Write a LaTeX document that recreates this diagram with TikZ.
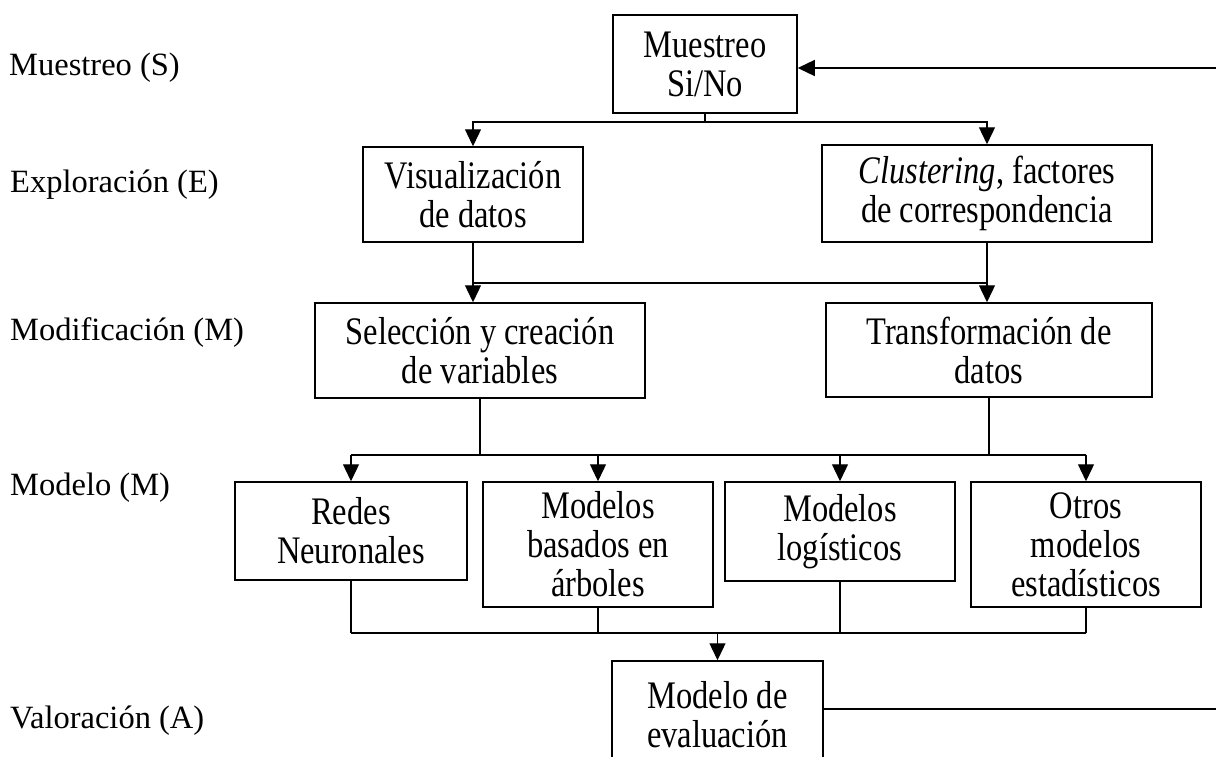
\documentclass[tikz,border=0pt]{standalone}
\usepackage{fontspec}
\setmainfont{Liberation Serif}
\usetikzlibrary{arrows.meta}
\newcommand{\vs}[1]{\scalebox{1}[1.2]{#1}}
\begin{document}
\begin{tikzpicture}[x=1pt,y=-1pt,
  txt/.style={font=\fontsize{32.5}{39}\selectfont},
  box/.style={draw, line width=1.5pt, align=center, inner sep=0pt, txt},
  lbl/.style={anchor=west, inner sep=0pt, txt},
  conn/.style={line width=1.3pt},
  arr/.style={conn, -{Triangle[length=17pt,width=16pt]}}]
\useasboundingbox (0,0) rectangle (1216,756);

% left labels
\node[lbl] (l1) at (9,68) {Muestreo (S)};
\node[lbl] (l2) at (10,185) {Exploración (E)};
\node[lbl] (l3) at (10,333) {Modificación (M)};
\node[lbl] (l4) at (10,488) {Modelo (M)};
\node[lbl] (l5) at (10,721) {Valoración (A)};

% boxes
\node[box, minimum width=184pt, minimum height=98pt] (s) at (705,64) {\vs{Muestreo}\\\vs{Si/No}};
\node[box, minimum width=220pt, minimum height=95pt] (vis) at (473,194.5) {\vs{Visualización}\\\vs{de datos}};
\node[box, minimum width=330pt, minimum height=97pt] (clu) at (987,193.5) {\vs{\textit{Clustering}, factores}\\\vs{de correspondencia}};
\node[box, minimum width=330pt, minimum height=95pt] (sel) at (480,350.5) {\vs{Selección y creación}\\\vs{de variables}};
\node[box, minimum width=326pt, minimum height=94pt] (tra) at (989,350) {\vs{Transformación de}\\\vs{datos}};
\node[box, minimum width=232pt, minimum height=98pt] (red) at (351,531) {\vs{Redes}\\\vs{Neuronales}};
\node[box, minimum width=230pt, minimum height=125pt] (arb) at (598,544.5) {\vs{Modelos}\\\vs{basados en}\\\vs{árboles}};
\node[box, minimum width=230pt, minimum height=99pt] (log) at (840,531.5) {\vs{Modelos}\\\vs{logísticos}};
\node[box, minimum width=230pt, minimum height=125pt] (otr) at (1086,544.5) {\vs{Otros}\\\vs{modelos}\\\vs{estadísticos}};
\node[box, minimum width=211pt, minimum height=108pt] (ev) at (717.5,715) {\vs{Modelo de}\\\vs{evaluación}};

% feedback ends at the right edge
\coordinate (r1) at (1216,68);
\coordinate (r2) at (1216,709);
\coordinate (e2) at (823,709);
\draw[arr] (r1) -- (r1 -| s.east);
\draw[conn] (e2) -- (r2);

% S -> E
\coordinate (j1) at (705,122);
\draw[conn] (s.south) -- (j1);
\draw[arr] (j1) -| (vis.north);
\draw[arr] (j1) -| (clu.north);

% E -> M
\coordinate (j2a) at (473,283);
\coordinate (j2b) at (987,283);
\draw[conn] (vis.south) -- (j2a);
\draw[conn] (clu.south) -- (j2b);
\draw[conn] (j2a) -- (j2b);
\draw[arr] (j2a) -- (j2a |- sel.north);
\draw[arr] (j2b) -- (j2b |- tra.north);

% M -> Model
\coordinate (j3) at (0,455);
\draw[conn] (sel.south) -- (sel.south |- j3);
\draw[conn] (tra.south) -- (tra.south |- j3);
\draw[conn] (red.north |- j3) -- (otr.north |- j3);
\draw[arr] (red.north |- j3) -- (red.north);
\draw[arr] (arb.north |- j3) -- (arb.north);
\draw[arr] (log.north |- j3) -- (log.north);
\draw[arr] (otr.north |- j3) -- (otr.north);

% Model -> Valoración
\coordinate (j4) at (0,633);
\draw[conn] (red.south) -- (red.south |- j4);
\draw[conn] (arb.south) -- (arb.south |- j4);
\draw[conn] (log.south) -- (log.south |- j4);
\draw[conn] (otr.south) -- (otr.south |- j4);
\draw[conn] (red.south |- j4) -- (otr.south |- j4);
\draw[arr] (ev.north |- j4) -- (ev.north);
\end{tikzpicture}
\end{document}
